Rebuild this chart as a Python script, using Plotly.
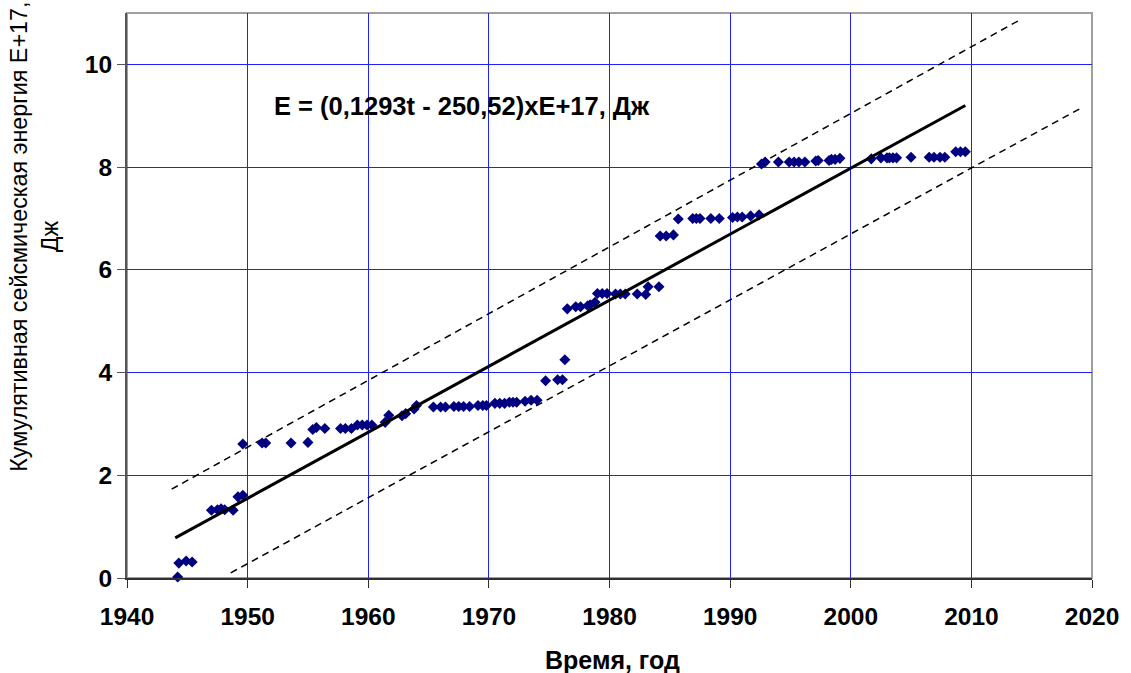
import plotly.graph_objects as go

# ---- data ----
years = [1944.2, 1944.3, 1944.9, 1945.4, 1947.0, 1947.5, 1947.8, 1948.1, 1948.8, 1949.2,
         1949.6, 1949.6, 1951.2, 1951.5, 1953.6, 1955.0, 1955.4, 1955.7, 1956.4, 1957.7,
         1958.1, 1958.6, 1959.1, 1959.5, 1959.9, 1960.3, 1961.4, 1961.7, 1962.8, 1963.1,
         1963.8, 1964.0, 1965.4, 1966.0, 1966.4, 1967.1, 1967.5, 1967.9, 1968.4, 1969.1,
         1969.5, 1969.8, 1970.5, 1970.9, 1971.3, 1971.7, 1972.0, 1972.3, 1973.0, 1973.5,
         1974.0, 1974.7, 1975.7, 1976.1, 1976.3, 1976.5, 1977.2, 1977.6, 1978.2, 1978.4,
         1978.8, 1979.0, 1979.4, 1979.8, 1980.5, 1980.9, 1981.3, 1982.3, 1983.0, 1983.2,
         1984.1, 1984.2, 1984.7, 1985.3, 1985.7, 1986.9, 1987.2, 1987.5, 1988.4, 1989.1,
         1990.2, 1990.6, 1991.0, 1991.7, 1992.4, 1992.6, 1992.9, 1994.0, 1994.9, 1995.3,
         1995.7, 1996.2, 1997.1, 1997.3, 1998.2, 1998.4, 1998.7, 1999.1, 2001.7, 2002.5,
         2003.0, 2003.2, 2003.5, 2003.8, 2005.0, 2006.5, 2006.9, 2007.4, 2007.8, 2008.7,
         2009.1, 2009.5]
energy = [0.02, 0.29, 0.33, 0.31, 1.32, 1.33, 1.35, 1.33, 1.32, 1.58,
          1.61, 2.61, 2.63, 2.63, 2.63, 2.64, 2.89, 2.93, 2.91, 2.91,
          2.91, 2.91, 2.98, 2.98, 2.98, 2.98, 3.03, 3.17, 3.16, 3.20,
          3.29, 3.36, 3.33, 3.33, 3.33, 3.34, 3.34, 3.34, 3.34, 3.36,
          3.36, 3.36, 3.40, 3.40, 3.40, 3.42, 3.42, 3.42, 3.44, 3.46,
          3.46, 3.84, 3.86, 3.86, 4.25, 5.24, 5.28, 5.28, 5.30, 5.32,
          5.37, 5.54, 5.54, 5.54, 5.53, 5.53, 5.53, 5.53, 5.52, 5.67,
          5.67, 6.66, 6.66, 6.68, 6.99, 7.00, 7.00, 7.00, 7.00, 7.00,
          7.02, 7.03, 7.03, 7.05, 7.07, 8.06, 8.10, 8.10, 8.10, 8.10,
          8.10, 8.10, 8.12, 8.13, 8.13, 8.15, 8.15, 8.17, 8.16, 8.18,
          8.18, 8.18, 8.18, 8.18, 8.19, 8.19, 8.19, 8.19, 8.19, 8.30,
          8.30, 8.30]

fit_x = [1944.0, 2009.5]
fit_y = [0.78, 9.20]
upper_x = [1943.7, 2013.9]
upper_y = [1.73, 10.85]
lower_x = [1948.6, 2019.1]
lower_y = [0.10, 9.15]

x_ticks = [1940, 1950, 1960, 1970, 1980, 1990, 2000, 2010, 2020]
y_ticks = [0, 2, 4, 6, 8, 10]

equation_text = "E = (0,1293t - 250,52)xE+17, Дж"
equation_pos = (1952.0, 9.18)
y_title = "Кумулятивная сейсмическая энергия E+17,<br>Дж"
x_title = "Время, год"

FONT = "Liberation Sans, Arial, sans-serif"

fig = go.Figure()
fig.add_trace(go.Scatter(x=upper_x, y=upper_y, mode="lines",
                         line=dict(color="black", width=1.5, dash="7px,5px"),
                         hoverinfo="skip", showlegend=False))
fig.add_trace(go.Scatter(x=lower_x, y=lower_y, mode="lines",
                         line=dict(color="black", width=1.5, dash="7px,5px"),
                         hoverinfo="skip", showlegend=False))
fig.add_trace(go.Scatter(x=years, y=energy, mode="markers",
                         marker=dict(symbol="diamond", size=8.5, color="#000080",
                                     line=dict(width=0)),
                         showlegend=False, cliponaxis=False))
fig.add_trace(go.Scatter(x=fit_x, y=fit_y, mode="lines",
                         line=dict(color="black", width=3),
                         hoverinfo="skip", showlegend=False))

fig.add_annotation(x=equation_pos[0], y=equation_pos[1], xref="x", yref="y",
                   text="<b>" + equation_text + "</b>", showarrow=False,
                   xanchor="left", yanchor="middle",
                   font=dict(family=FONT, size=25.5, color="black"))
fig.add_annotation(x=0, y=0.604, xref="paper", yref="paper", xshift=-93,
                   text=y_title, showarrow=False, textangle=-90,
                   xanchor="center", yanchor="middle",
                   font=dict(family=FONT, size=23.3, color="black"))
fig.add_annotation(x=0.5, y=0, xref="paper", yref="paper", yshift=-82, xshift=3,
                   text="<b>" + x_title + "</b>", showarrow=False,
                   xanchor="center", yanchor="middle",
                   font=dict(family=FONT, size=25, color="black"))

# light grey border of the plot area (top / right)
fig.add_shape(type="rect", xref="paper", yref="paper", x0=0, y0=0, x1=1, y1=1,
              line=dict(color="#a0a0a0", width=2), layer="below")

fig.update_xaxes(range=[1940, 2020], tickmode="array", tickvals=x_ticks,
                 ticktext=["<b>%d</b>" % v for v in x_ticks],
                 showgrid=True, gridcolor="#1f1fff", gridwidth=1.2,
                 showline=True, linecolor="#303030", linewidth=2,
                 ticks="outside", ticklen=8, tickcolor="#303030", tickwidth=1,
                 ticklabelstandoff=8,
                 tickfont=dict(family=FONT, size=24.5, color="black"),
                 zeroline=False)
fig.update_yaxes(range=[0, 11], tickmode="array", tickvals=y_ticks,
                 ticktext=["<b>%d</b>" % v for v in y_ticks],
                 showgrid=True, gridcolor="#1f1fff", gridwidth=1.2,
                 showline=True, linecolor="#555555", linewidth=2,
                 ticks="outside", ticklen=8, tickcolor="#555555", tickwidth=1,
                 tickfont=dict(family=FONT, size=24.5, color="black"),
                 zeroline=False)

fig.update_layout(width=1131, height=673,
                  margin=dict(l=127, r=33, t=13, b=95),
                  paper_bgcolor="white", plot_bgcolor="white",
                  font=dict(family=FONT, color="black"))

fig.write_html("out.html")
